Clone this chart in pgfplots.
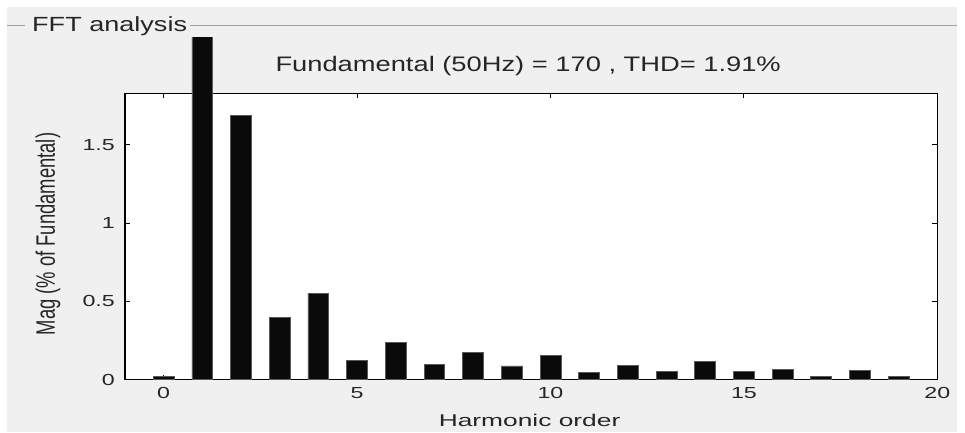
\documentclass[border=0pt]{standalone}
\usepackage{pgfplots}
\pgfplotsset{compat=1.18}
\usepackage{pgfplotstable}
\usepackage{fontspec}
\usepackage{graphicx}
\setmainfont{Liberation Sans}

\definecolor{panelbg}{HTML}{F0F0F0}
\definecolor{panelline}{HTML}{A0A0A0}
\definecolor{txt}{HTML}{262626}
\definecolor{barfill}{HTML}{0A0A0A}

% Harmonic spectrum, magnitude in % of the fundamental
\pgfplotstableread{
h   mag
0   0.02
1   100
2   1.69
3   0.394
4   0.552
5   0.123
6   0.238
7   0.095
8   0.172
9   0.087
10  0.154
11  0.048
12  0.088
13  0.050
14  0.114
15  0.050
16  0.067
17  0.020
18  0.059
19  0.020
}\harmonics

\begin{document}
\begin{tikzpicture}
\useasboundingbox (0pt,0pt) rectangle (965pt,-432pt);
\fill[white] (0pt,0pt) rectangle (965pt,-432pt);
\fill[panelbg] (7pt,-7pt) rectangle (957pt,-432pt);
% panel frame line with its caption
\draw[panelline, line width=1pt] (7pt,-25.3pt) -- (25pt,-25.3pt);
\draw[panelline, line width=1pt] (190pt,-25.3pt) -- (957pt,-25.3pt);
\node[anchor=base west, inner sep=0pt, text=txt] at (32pt,-31.5pt)
  {\fontsize{20.5}{22}\selectfont\scalebox{1.32}[1]{FFT analysis}};

\begin{scope}
% the fundamental bar runs off the panel and is cut at its top
\clip (0pt,-37.3pt) rectangle (965pt,-432pt);
\begin{axis}[
  at={(125pt,-379.5pt)}, anchor=south west,
  scale only axis,
  width=812.3pt, height=286.2pt,
  xmin=-1, xmax=20, ymin=0, ymax=1.83,
  clip=false,
  axis background/.style={fill=white},
  axis line style={black, line width=1.3pt},
  tick pos=both,
  tick align=inside,
  major tick length=5pt,
  every tick/.style={black, line width=1pt},
  xtick={0,5,10,15,20},
  ytick={0,0.5,1,1.5},
  minor tick num=0,
  /pgf/number format/assume math mode=true,
  xticklabel={\scalebox{1.45}[1]{\pgfmathprintnumber{\tick}}},
  yticklabel={\scalebox{1.45}[1]{\pgfmathprintnumber{\tick}}},
  ticklabel style={font=\fontsize{16}{17}\selectfont, text=txt, inner sep=0pt},
  xticklabel style={yshift=-7.5pt},
  yticklabel style={xshift=-10pt},
  title={\scalebox{1.3}[1]{Fundamental (50Hz) = 170 , THD= 1.91\%}},
  title style={at={(axis description cs:0.5,1)}, anchor=base, inner sep=0pt,
    xshift=-3pt, yshift=15.5pt, font=\fontsize{21}{22}\selectfont, text=txt},
  xlabel={\scalebox{1.55}[1]{Harmonic order}},
  xlabel style={at={(axis description cs:0.5,0)}, anchor=base, inner sep=0pt,
    xshift=-1.6pt, yshift=-47pt, font=\fontsize{17}{18}\selectfont, text=txt},
  ylabel={\scalebox{1}[1.45]{Mag (\% of Fundamental)}},
  % shifts act in the rotated frame of the label
  ylabel style={at={(axis description cs:0,0.5)}, anchor=center, inner sep=0pt,
    xshift=2.4pt, yshift=77pt, font=\fontsize{18.4}{19}\selectfont, text=txt},
]
\addplot[ybar, bar width=0.54, fill=barfill, draw=black!65, line width=0.8pt,
  restrict y to domain*=0:3]
  table[x=h, y=mag] {\harmonics};
\end{axis}
\end{scope}
\end{tikzpicture}
\end{document}
